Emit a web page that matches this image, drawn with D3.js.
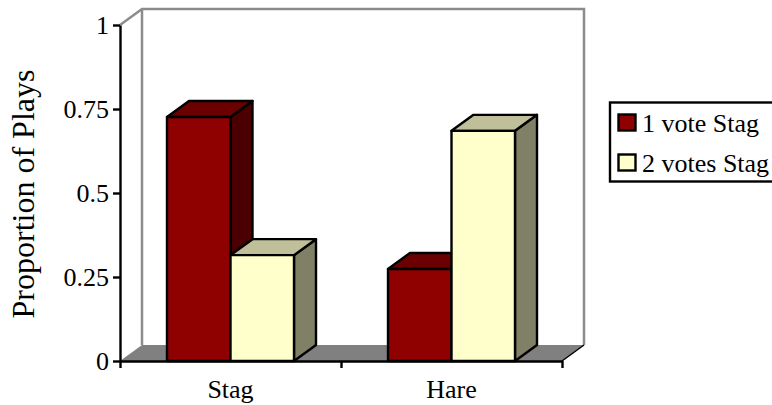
<!DOCTYPE html>
<html lang="en">
<head>
    <meta charset="UTF-8">
    <title>Proportion of Plays</title>
    <script src="https://d3js.org/d3.v7.min.js"></script>
    <style>
        html, body { margin: 0; padding: 0; background: #fff; overflow: hidden; }
        svg { display: block; }
        text { font-family: "Liberation Serif", serif; fill: #000; }
    </style>
</head>
<body>
<script>
    var categories = ['Stag', 'Hare'];
    var seriesNames = ['1 vote Stag', '2 votes Stag'];
    var oneVote = [0.726, 0.274];
    var twoVotes = [0.315, 0.685];
    var yTicks = [0, 0.25, 0.5, 0.75, 1];
    var yTickLabels = ['0', '0.25', '0.5', '0.75', '1'];
    var fronts = ['#8f0000', '#ffffcc'];
    var tops = ['#6b0000', '#bfbf99'];
    var sides = ['#4a0000', '#808066'];

    var w = 772, h = 405;
    var m = {left: 120, right: 562, top: 25, bottom: 361};
    var dx = 22, dy = -16; // 3d depth offset

    var svg = d3.select('body').append('svg').attr('width', w).attr('height', h);

    var x = d3.scaleBand().domain(categories).range([m.left, m.right]);
    var y = d3.scaleLinear().domain([0, 1]).range([m.bottom, m.top]);
    var inner = d3.scaleBand().domain(seriesNames).range([x.bandwidth() / 2 - 63.5, x.bandwidth() / 2 + 63.5]);

    var poly = function(pts) { return pts.map(function(p) { return p.join(','); }).join(' '); };

    // back wall + side wall
    svg.append('path')
        .attr('d', 'M' + m.left + ',' + y(1) + 'L' + (m.left + dx) + ',' + (y(1) + dy)
            + 'L' + (m.right + dx) + ',' + (y(1) + dy) + 'L' + (m.right + dx) + ',' + (y(0) + dy))
        .attr('fill', 'none').attr('stroke', '#8c8c8c').attr('stroke-width', 2.5);
    svg.append('line')
        .attr('x1', m.left + dx).attr('x2', m.left + dx)
        .attr('y1', y(1) + dy).attr('y2', y(0) + dy)
        .attr('stroke', '#8c8c8c').attr('stroke-width', 2.5);

    // floor
    svg.append('polygon')
        .attr('points', poly([[m.left, y(0)], [m.left + dx, y(0) + dy], [m.right + dx, y(0) + dy], [m.right, y(0)]]))
        .attr('fill', '#808080');
    svg.append('line')
        .attr('x1', m.right).attr('x2', m.right + dx)
        .attr('y1', y(0)).attr('y2', y(0) + dy)
        .attr('stroke', '#000').attr('stroke-width', 1.5);

    // bars, back to front by series
    var bars = [];
    categories.forEach(function(c, i) {
        bars.push({cat: c, s: 0, v: oneVote[i]});
        bars.push({cat: c, s: 1, v: twoVotes[i]});
    });

    var g = svg.selectAll('g.bar').data(bars).enter().append('g').attr('class', 'bar')
        .attr('stroke', '#000').attr('stroke-width', 2.4).attr('stroke-linejoin', 'round');

    g.append('polygon').attr('points', function(d) {
        var x0 = x(d.cat) + inner(seriesNames[d.s]), x1 = x0 + inner.bandwidth(), t = y(d.v);
        return poly([[x1, t], [x1 + dx, t + dy], [x1 + dx, y(0) + dy], [x1, y(0)]]);
    }).attr('fill', function(d) { return sides[d.s]; });

    g.append('polygon').attr('points', function(d) {
        var x0 = x(d.cat) + inner(seriesNames[d.s]), x1 = x0 + inner.bandwidth(), t = y(d.v);
        return poly([[x0, t], [x0 + dx, t + dy], [x1 + dx, t + dy], [x1, t]]);
    }).attr('fill', function(d) { return tops[d.s]; });

    g.append('rect')
        .attr('x', function(d) { return x(d.cat) + inner(seriesNames[d.s]); })
        .attr('y', function(d) { return y(d.v); })
        .attr('width', inner.bandwidth())
        .attr('height', function(d) { return y(0) - y(d.v); })
        .attr('fill', function(d) { return fronts[d.s]; });

    // y axis
    var yAxis = d3.axisLeft(y).tickValues(yTicks)
        .tickFormat(function(d, i) { return yTickLabels[i]; })
        .tickSize(7).tickPadding(4).tickSizeOuter(0);
    var gy = svg.append('g').attr('transform', 'translate(' + m.left + ',0)').call(yAxis);
    gy.selectAll('line, path').attr('stroke', '#000').attr('stroke-width', 2.4);
    gy.selectAll('text').attr('font-size', 26).attr('font-family', '"Liberation Serif", serif').attr('fill', '#000');

    // x axis, ticks sit between the categories
    var xTickScale = d3.scaleLinear().domain([0, 2]).range([m.left, m.right]);
    var xAxis = d3.axisBottom(xTickScale).tickValues([0, 1, 2]).tickFormat('').tickSize(7).tickSizeOuter(0);
    var gx = svg.append('g').attr('transform', 'translate(0,' + m.bottom + ')').call(xAxis);
    gx.selectAll('line, path').attr('stroke', '#000').attr('stroke-width', 2.4);

    svg.selectAll('text.cat').data(categories).enter().append('text').attr('class', 'cat')
        .attr('x', function(d) { return x(d) + x.bandwidth() / 2; })
        .attr('y', 398)
        .attr('text-anchor', 'middle')
        .attr('font-size', 26)
        .text(function(d) { return d; });

    // y title
    svg.append('text')
        .attr('transform', 'translate(34,194) rotate(-90)')
        .attr('text-anchor', 'middle')
        .attr('font-size', 32)
        .text('Proportion of Plays');

    // legend
    var legend = svg.append('g');
    legend.append('rect').attr('x', 610).attr('y', 102.5).attr('width', 170).attr('height', 79)
        .attr('fill', '#fff').attr('stroke', '#000').attr('stroke-width', 2.4);
    var item = legend.selectAll('g').data(seriesNames).enter().append('g')
        .attr('transform', function(d, i) { return 'translate(0,' + (i * 40) + ')'; });
    item.append('rect').attr('x', 618.5).attr('y', 114.5).attr('width', 17).attr('height', 16)
        .attr('fill', function(d, i) { return fronts[i]; })
        .attr('stroke', '#000').attr('stroke-width', 2.4);
    item.append('text').attr('x', 642).attr('y', 132).attr('font-size', 26)
        .text(function(d) { return d; });
</script>
</body>
</html>
